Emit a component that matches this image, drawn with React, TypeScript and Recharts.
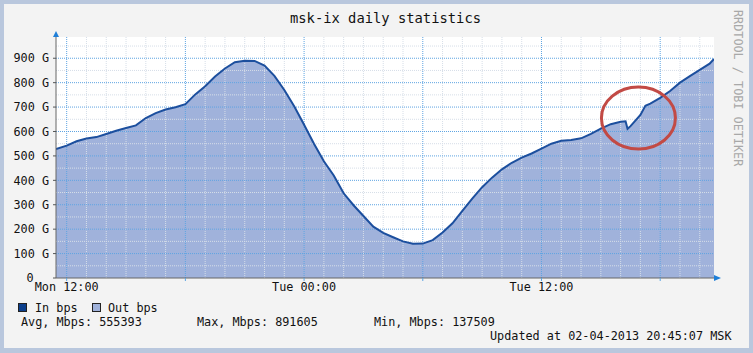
import { ComposedChart, Area, Line, XAxis, YAxis, CartesianGrid, ReferenceLine, ReferenceDot } from 'recharts';

// hours since Mon 00:00
const hours = [
  11.46, 12, 12.5, 13, 13.5, 14, 14.5, 15, 15.5, 16, 16.5, 17, 17.5, 18, 18.5, 19, 19.5, 20, 20.5, 21,
  21.5, 22, 22.5, 23, 23.5, 24, 24.5, 25, 25.5, 26, 26.5, 27, 27.5, 28, 28.5, 29, 29.5, 30, 30.5, 31,
  31.5, 32, 32.5, 33, 33.5, 34, 34.5, 35, 35.5, 36, 36.5, 37, 37.5, 38, 38.5, 39, 39.5, 40, 40.25, 40.35,
  40.5, 41, 41.25, 41.5, 42, 42.5, 43, 43.5, 44, 44.5, 44.72,
];

// traffic, Gbps
const inBps = [
  528, 542, 560, 571, 577, 590, 603, 614, 625, 655, 675, 690, 699, 712, 752, 785, 825, 858, 884, 890,
  889, 870, 828, 770, 703, 628, 550, 478, 420, 347, 298, 254, 210, 185, 167, 150, 140, 141, 155, 186,
  224, 275, 325, 372, 411, 445, 472, 493, 510, 530, 550, 562, 565, 572, 590, 612, 630, 640, 642, 611,
  622, 668, 705, 714, 738, 766, 800, 827, 852, 878, 897,
];
const outBps = inBps;

const xMajorTicks = [12, 18, 24, 30, 36, 42];
const xTickLabels = ['Mon 12:00', '', 'Tue 00:00', '', 'Tue 12:00', ''];
const xMinorTicks = [13, 14, 15, 16, 17, 19, 20, 21, 22, 23, 25, 26, 27, 28, 29, 31, 32, 33, 34, 35, 37, 38, 39, 40, 41, 43, 44];
const yMajorTicks = [0, 100, 200, 300, 400, 500, 600, 700, 800, 900];
const yMinorTicks = [50, 150, 250, 350, 450, 550, 650, 750, 850, 950];

const X_MIN = 11.46;
const X_MAX = 44.72;
const Y_MAX = 987;

const FONT = "'DejaVu Sans Mono', monospace";
const MAJOR = '#5ea4e2';
const MINOR = '#d6dee8';

const data = hours.map((h, i) => ({ h, inG: inBps[i], outG: outBps[i] }));

const text = (left: number, centerY: number, label: string, extra: React.CSSProperties = {}) => (
  <div
    style={{
      position: 'absolute',
      left,
      top: centerY - 7,
      fontFamily: FONT,
      fontSize: 11.8,
      lineHeight: '14px',
      color: '#111',
      whiteSpace: 'pre',
      ...extra,
    }}
  >
    {label}
  </div>
);

// rrdtool centres the bare "0" in the label column, the others are right-aligned
const YTick = (props: any) => {
  const { x, y, payload } = props;
  const v = payload.value as number;
  if (v === 0) {
    return (
      <text x={30} y={y} dy="0.355em" textAnchor="middle" fontFamily={FONT} fontSize={11.8} fill="#111">
        0
      </text>
    );
  }
  return (
    <text x={x} y={y} dy="0.355em" textAnchor="end" fontFamily={FONT} fontSize={11.8} fill="#111">
      {`${v} G`}
    </text>
  );
};

export default function App() {
  return (
    <div style={{ position: 'relative', width: 753, height: 353, background: '#f3f3f3', overflow: 'hidden' }}>
      <style>{'body{margin:0}'}</style>
      <div
        style={{
          position: 'absolute',
          inset: 0,
          border: '4px solid #b9c7dd',
          borderBottomWidth: 5,
          boxSizing: 'border-box',
          pointerEvents: 'none',
        }}
      />
      <div
        style={{
          position: 'absolute',
          left: 0,
          right: 0,
          top: 10,
          textAlign: 'center',
          fontFamily: FONT,
          fontSize: 13.8,
          lineHeight: '16px',
          color: '#111',
          paddingLeft: 18,
        }}
      >
        msk-ix daily statistics
      </div>
      <div
        style={{
          position: 'absolute',
          left: 738,
          top: 10,
          transform: 'rotate(90deg)',
          transformOrigin: '0 0',
          fontFamily: FONT,
          fontSize: 11.8,
          lineHeight: '14px',
          color: '#a8a8a8',
          whiteSpace: 'pre',
          marginLeft: 7,
        }}
      >
        RRDTOOL / TOBI OETIKER
      </div>

      <div style={{ position: 'absolute', left: 0, top: 0 }}>
        <ComposedChart width={753} height={353} data={data} margin={{ top: 37, right: 39, bottom: 55, left: 6 }}>
          <CartesianGrid fill="#ffffff" horizontal={false} vertical={false} />
          <XAxis
            dataKey="h"
            type="number"
            domain={[X_MIN, X_MAX]}
            allowDataOverflow
            ticks={xMajorTicks}
            tickFormatter={(v: number) => xTickLabels[xMajorTicks.indexOf(v)] ?? ''}
            interval={0}
            height={20}
            tickSize={3}
            tickMargin={2}
            axisLine={{ stroke: '#666' }}
            tickLine={{ stroke: MAJOR }}
            tick={{ fontFamily: FONT, fontSize: 11.8, fill: '#111' }}
          />
          <YAxis
            type="number"
            domain={[0, Y_MAX]}
            allowDataOverflow
            ticks={yMajorTicks}
            interval={0}
            width={50}
            tickSize={3}
            tickMargin={4}
            axisLine={{ stroke: '#666' }}
            tickLine={{ stroke: '#555' }}
            tick={YTick}
          />
          <Area
            dataKey="outG"
            type="linear"
            fill="#a0b2db"
            fillOpacity={1}
            stroke="none"
            isAnimationActive={false}
          />
          {xMinorTicks.map((t) => (
            <ReferenceLine key={`xm${t}`} x={t} stroke={MINOR} strokeDasharray="1 1" />
          ))}
          {yMinorTicks.map((t) => (
            <ReferenceLine key={`ym${t}`} y={t} stroke={MINOR} strokeDasharray="1 1" />
          ))}
          {xMajorTicks.map((t) => (
            <ReferenceLine key={`xM${t}`} x={t} stroke={MAJOR} strokeDasharray="1 1" />
          ))}
          {yMajorTicks.slice(1).map((t) => (
            <ReferenceLine key={`yM${t}`} y={t} stroke={MAJOR} strokeDasharray="1 1" />
          ))}
          <Line
            dataKey="inG"
            type="linear"
            stroke="#1c4f9e"
            strokeWidth={2}
            dot={false}
            isAnimationActive={false}
          />
          <ReferenceDot
            x={X_MIN}
            y={Y_MAX}
            ifOverflow="visible"
            shape={(p: any) => (
              <polygon points={`${p.cx - 3},${p.cy} ${p.cx + 3},${p.cy} ${p.cx},${p.cy - 6}`} fill="#1f7fd8" />
            )}
          />
          <ReferenceDot
            x={X_MAX}
            y={0}
            ifOverflow="visible"
            shape={(p: any) => (
              <polygon points={`${p.cx},${p.cy - 3} ${p.cx},${p.cy + 3} ${p.cx + 7},${p.cy}`} fill="#1f7fd8" />
            )}
          />
          <ReferenceDot
            x={40.9}
            y={655}
            ifOverflow="visible"
            shape={(p: any) => (
              <ellipse cx={p.cx} cy={p.cy} rx={37} ry={31} fill="none" stroke="#c24a45" strokeWidth={3} />
            )}
          />
        </ComposedChart>
      </div>

      <div style={{ position: 'absolute', left: 18, top: 303, width: 7, height: 7, background: '#0c3f8c', border: '1px solid #222' }} />
      {text(35, 308, 'In bps')}
      <div style={{ position: 'absolute', left: 92, top: 303, width: 7, height: 7, background: '#a0b2db', border: '1px solid #222' }} />
      {text(108, 308, 'Out bps')}
      {text(21, 322, 'Avg, Mbps: 555393')}
      {text(197, 322, 'Max, Mbps: 891605')}
      {text(374, 322, 'Min, Mbps: 137509')}
      {text(490, 336, 'Updated at 02-04-2013 20:45:07 MSK')}
    </div>
  );
}
